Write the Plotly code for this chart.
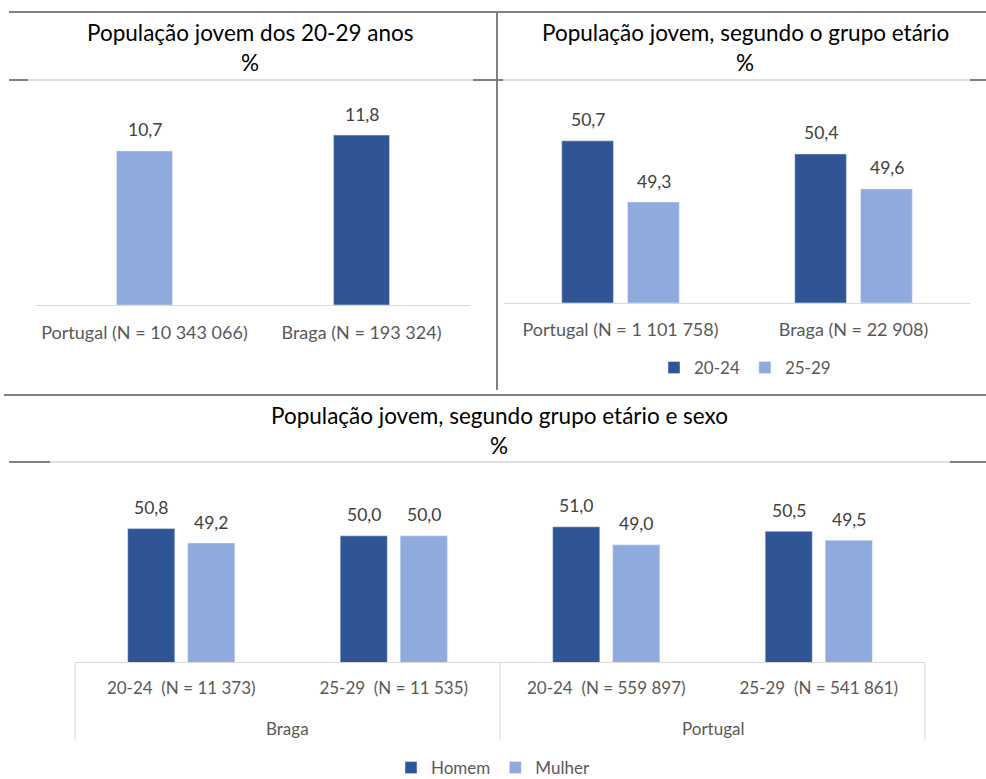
import plotly.graph_objects as go

# ---------------- data ----------------
tl_categories = ["Portugal (N = 10 343 066)", "Braga (N = 193 324)"]
tl_values = [10.7, 11.8]

tr_categories = ["Portugal (N = 1 101 758)", "Braga (N = 22 908)"]
tr_2024 = [50.7, 50.4]
tr_2529 = [49.3, 49.6]

b_groups = ["Braga", "Portugal"]
b_ages = ["20-24  (N = 11 373)", "25-29  (N = 11 535)",
          "20-24  (N = 559 897)", "25-29  (N = 541 861)"]
b_homem = [50.8, 50.0, 51.0, 50.5]
b_mulher = [49.2, 50.0, 49.0, 49.5]

titles = ["População jovem dos 20-29 anos",
          "População jovem, segundo o grupo etário",
          "População jovem, segundo grupo etário e sexo"]

# ---------------- style ----------------
W, H = 986, 779
DARK = "#2F5597"
LIGHT = "#8FAADC"
FONT = "Lato"
TXT = "#404040"
TICK = "#595959"
AXL = "#D9D9D9"
BORDER = "#808080"


def px(x):
    return x / W


def py(y):
    return 1 - y / H


def fmt(v):
    return f"{v:.1f}".replace(".", ",")


fig = go.Figure()

# top-left
fig.add_trace(go.Bar(x=tl_categories, y=tl_values, marker_color=[LIGHT, DARK],
                     width=0.258, showlegend=False, xaxis="x", yaxis="y",
                     hoverinfo="skip"))
# top-right
fig.add_trace(go.Bar(x=tr_categories, y=tr_2024, name="20-24", marker_color=DARK,
                     xaxis="x2", yaxis="y2", legend="legend", offsetgroup="a"))
fig.add_trace(go.Bar(x=tr_categories, y=tr_2529, name="25-29", marker_color=LIGHT,
                     xaxis="x2", yaxis="y2", legend="legend", offsetgroup="b"))
# bottom
fig.add_trace(go.Bar(x=b_ages, y=b_homem, name="Homem", marker_color=DARK,
                     xaxis="x3", yaxis="y3", legend="legend2", offsetgroup="c"))
fig.add_trace(go.Bar(x=b_ages, y=b_mulher, name="Mulher", marker_color=LIGHT,
                     xaxis="x3", yaxis="y3", legend="legend2", offsetgroup="d"))

# data labels as annotations tied to data coordinates
ann = []
LSH = 21
LF = dict(size=17.5, color=TXT)
for i, v in enumerate(tl_values):
    ann.append(dict(x=i, y=v, xref="x", yref="y", text=fmt(v), showarrow=False,
                    yshift=LSH, font=LF))
for i, (a, b) in enumerate(zip(tr_2024, tr_2529)):
    ann.append(dict(x=i, y=a, xref="x2", yref="y2", text=fmt(a), showarrow=False,
                    yshift=LSH, xshift=-33, font=LF))
    ann.append(dict(x=i, y=b, xref="x2", yref="y2", text=fmt(b), showarrow=False,
                    yshift=LSH, xshift=33, font=LF))
for i, (a, b) in enumerate(zip(b_homem, b_mulher)):
    ann.append(dict(x=i, y=a, xref="x3", yref="y3", text=fmt(a), showarrow=False,
                    yshift=LSH, xshift=-30, font=LF))
    ann.append(dict(x=i, y=b, xref="x3", yref="y3", text=fmt(b), showarrow=False,
                    yshift=LSH, xshift=30, font=LF))

# group labels of the bottom axis
for k, g in enumerate(b_groups):
    ann.append(dict(x=0.25 + 0.5 * k, y=py(728), xref="x3 domain", yref="paper", text=g,
                    xanchor="center", yanchor="middle", showarrow=False,
                    font=dict(size=17, color=TICK)))

# titles
TF = dict(size=22.5, color="#000000")
for t, cx, y1, y2 in [(titles[0], 250, 33, 63), (titles[1], 745, 33, 63),
                      (titles[2], 499, 415, 445)]:
    ann.append(dict(x=px(cx), y=py(y1), xref="paper", yref="paper", text=t,
                    xanchor="center", yanchor="middle", showarrow=False, font=TF))
    ann.append(dict(x=px(cx), y=py(y2), xref="paper", yref="paper", text="%",
                    xanchor="center", yanchor="middle", showarrow=False, font=TF))

# border lines
shapes = []


def hline(x0, x1, y, color, w):
    shapes.append(dict(type="line", xref="paper", yref="paper", x0=px(x0), x1=px(x1),
                       y0=py(y), y1=py(y), line=dict(color=color, width=w)))


def vline(x, y0, y1, color, w):
    shapes.append(dict(type="line", xref="paper", yref="paper", x0=px(x), x1=px(x),
                       y0=py(y0), y1=py(y1), line=dict(color=color, width=w)))


hline(9, 986, 12, BORDER, 2)
vline(497, 12, 390, BORDER, 2)
hline(9, 986, 80, "#BFBFBF", 1)
hline(9, 28, 80, BORDER, 2)
hline(473, 503, 80, BORDER, 2)
hline(970, 986, 80, BORDER, 2)
hline(4, 986, 395, BORDER, 2)
hline(9, 986, 462, "#BFBFBF", 1)
hline(9, 50, 462, BORDER, 2)
hline(950, 986, 462, BORDER, 2)

# bottom category box (group dividers)
for xd in (0, 0.5, 1):
    shapes.append(dict(type="line", xref="x3 domain", yref="paper", x0=xd, x1=xd,
                       y0=py(662), y1=py(740), line=dict(color=AXL, width=1)))

xcommon = dict(type="category", showline=True, linecolor=AXL, linewidth=1, ticks="",
               showgrid=False, zeroline=False, fixedrange=True, tickangle=0,
               automargin=False)
ycommon = dict(visible=False, showgrid=False, zeroline=False, fixedrange=True)

fig.update_layout(
    width=W, height=H,
    margin=dict(l=0, r=0, t=0, b=0, autoexpand=False),
    paper_bgcolor="white", plot_bgcolor="white",
    font=dict(family=FONT, color=TXT),
    separators=", ",
    barmode="group", bargap=0.435, bargroupgap=0.215,
    xaxis=dict(domain=[px(36), px(470)], anchor="y", ticklabelstandoff=11,
               tickfont=dict(size=18, color=TICK), **xcommon),
    yaxis=dict(domain=[py(305), py(103.4)], range=[0, 14], anchor="x", **ycommon),
    xaxis2=dict(domain=[px(504), px(970)], anchor="y2", ticklabelstandoff=11,
                tickfont=dict(size=18, color=TICK), **xcommon),
    yaxis2=dict(domain=[py(302.7), py(84)], range=[47, 52], anchor="x2", **ycommon),
    xaxis3=dict(domain=[px(75), px(925)], anchor="y3", ticklabelstandoff=11,
                tickfont=dict(size=17, color=TICK), **xcommon),
    yaxis3=dict(domain=[py(662), py(517.8)], range=[36, 52], anchor="x3", **ycommon),
    legend=dict(orientation="h", x=px(745), y=py(368), xanchor="center", yanchor="middle",
                font=dict(size=17, color=TICK), bgcolor="rgba(0,0,0,0)"),
    legend2=dict(orientation="h", x=px(493), y=py(768), xanchor="center", yanchor="middle",
                 font=dict(size=17, color=TICK), bgcolor="rgba(0,0,0,0)"),
    annotations=ann,
    shapes=shapes,
)

fig.write_html("out.html", config={"displayModeBar": False},
               post_script="document.body.style.margin='0';")
